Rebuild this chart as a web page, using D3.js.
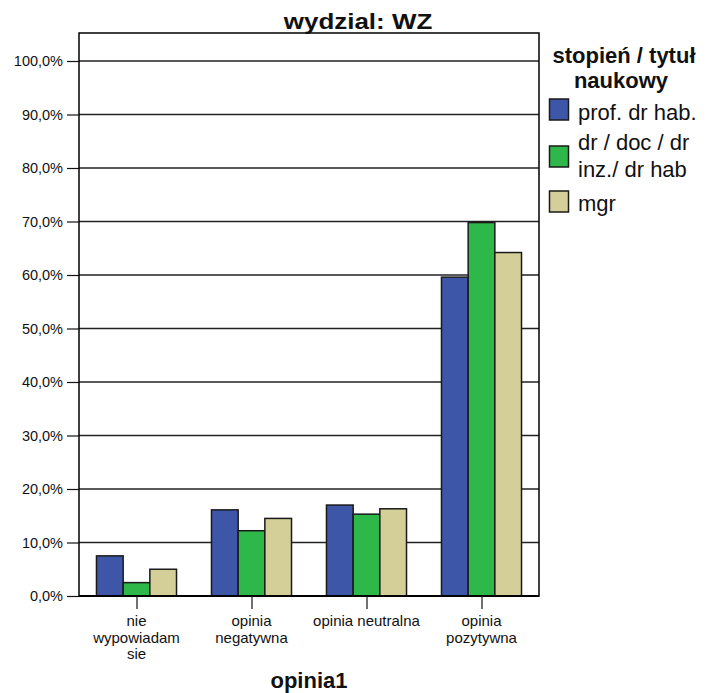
<!DOCTYPE html>
<html>
<head>
<meta charset="utf-8">
<script src="https://cdn.jsdelivr.net/npm/d3@7/dist/d3.min.js"></script>
<style>
  html, body { margin: 0; padding: 0; background: #fff; }
  svg { display: block; font-family: "Liberation Sans", Arial, Helvetica, sans-serif; }
</style>
</head>
<body>
<svg id="chart" width="707" height="693"></svg>
<script>
const categories = [["nie", "wypowiadam", "sie"], ["opinia", "negatywna"], ["opinia neutralna"], ["opinia", "pozytywna"]];
const seriesNames = ["prof. dr hab.", "dr / doc / dr|inz./ dr hab", "mgr"];
const profValues = [7.5, 16.1, 17.0, 59.6];
const drValues = [2.5, 12.2, 15.3, 69.8];
const mgrValues = [5.0, 14.5, 16.3, 64.2];
const yTicks = [0, 10, 20, 30, 40, 50, 60, 70, 80, 90, 100];
const colors = ["#3e56a8", "#2fb84a", "#d4ce98"];

(function () {
const series = [profValues, drValues, mgrValues];
const svg = d3.select("#chart");

const pLeft = 79, pRight = 539, pTop = 33, pBottom = 596;

const x0 = d3.scaleBand().domain(d3.range(categories.length)).range([pLeft, pRight])
  .paddingInner(0.304).paddingOuter(0.152);
const x1 = d3.scaleBand().domain(d3.range(series.length)).range([0, x0.bandwidth()]);
const y = d3.scaleLinear().domain([0, 100]).range([pBottom, 61]);

// gridlines + ticks
const yAxis = d3.axisLeft(y).tickValues(yTicks).tickSize(12).tickSizeOuter(0)
  .tickFormat(d => d3.format(".1f")(d).replace(".", ",") + "%");
const gy = svg.append("g").attr("transform", `translate(${pLeft},0)`).call(yAxis);
gy.select(".domain").remove();
gy.selectAll(".tick line").attr("stroke", "#111").attr("stroke-width", 1.2);
gy.selectAll(".tick text").attr("font-size", "14.5px").attr("fill", "#111").attr("x", -16)
  .attr("font-family", "Liberation Sans, Arial, sans-serif");
svg.append("g").selectAll("line").data(yTicks.filter(d => d > 0)).join("line")
  .attr("x1", pLeft).attr("x2", pRight)
  .attr("y1", d => y(d)).attr("y2", d => y(d))
  .attr("stroke", "#222").attr("stroke-width", 1.3);

// bars
const groups = svg.append("g").selectAll("g").data(categories).join("g")
  .attr("transform", (d, i) => `translate(${x0(i)},0)`);
groups.selectAll("rect").data((d, i) => series.map((s, j) => ({ j, v: s[i] }))).join("rect")
  .attr("x", d => x1(d.j))
  .attr("width", x1.bandwidth())
  .attr("y", d => y(d.v))
  .attr("height", d => y(0) - y(d.v))
  .attr("fill", d => colors[d.j])
  .attr("stroke", "#1a1a1a").attr("stroke-width", 1.5);

// frame
svg.append("rect").attr("x", pLeft).attr("y", pTop).attr("width", pRight - pLeft).attr("height", pBottom - pTop)
  .attr("fill", "none").attr("stroke", "#000").attr("stroke-width", 1.5);
svg.append("line").attr("x1", pLeft).attr("x2", pRight).attr("y1", pBottom).attr("y2", pBottom)
  .attr("stroke", "#000").attr("stroke-width", 2.2);

// x axis
const xAxis = d3.axisBottom(d3.scalePoint().domain(d3.range(categories.length))
    .range([x0(0) + x0.bandwidth() / 2, x0(3) + x0.bandwidth() / 2]))
  .tickSize(13).tickFormat("");
const gx = svg.append("g").attr("transform", `translate(0,${pBottom})`).call(xAxis);
gx.select(".domain").remove();
gx.selectAll(".tick line").attr("stroke", "#111").attr("stroke-width", 1.2);

categories.forEach((lines, i) => {
  const cx = x0(i) + x0.bandwidth() / 2;
  const t = svg.append("text").attr("text-anchor", "middle").attr("font-size", "15px").attr("fill", "#111");
  lines.forEach((ln, k) => {
    t.append("tspan").attr("x", cx).attr("y", 626 + k * 16.6).text(ln);
  });
});

// axis title
svg.append("text").attr("x", (pLeft + pRight) / 2).attr("y", 688).attr("text-anchor", "middle")
  .attr("font-size", "22px").attr("font-weight", "bold").attr("fill", "#111").text("opinia1");

// chart title
svg.append("text").attr("transform", "translate(358,28.5) scale(1.18,1)").attr("text-anchor", "middle")
  .attr("font-size", "22px").attr("font-weight", "bold").attr("fill", "#111").text("wydzial: WZ");

// legend
svg.append("text").attr("x", 624).attr("y", 63).attr("text-anchor", "middle")
  .attr("font-size", "22px").attr("font-weight", "bold").attr("fill", "#111").text("stopień / tytuł");
svg.append("text").attr("x", 621).attr("y", 88).attr("text-anchor", "middle")
  .attr("font-size", "22px").attr("font-weight", "bold").attr("fill", "#111").text("naukowy");

const legendTop = [99, 146, 191];
const legendBase = [[120], [150, 177], [211]];
seriesNames.forEach((name, i) => {
  svg.append("rect").attr("x", 549.5).attr("y", legendTop[i]).attr("width", 19).attr("height", 21)
    .attr("fill", colors[i]).attr("stroke", "#1a1a1a").attr("stroke-width", 1.5);
  const t = svg.append("text").attr("font-size", "22px").attr("fill", "#111");
  name.split("|").forEach((ln, k) => {
    t.append("tspan").attr("x", 578).attr("y", legendBase[i][k]).text(ln);
  });
});
})();
</script>
</body>
</html>
